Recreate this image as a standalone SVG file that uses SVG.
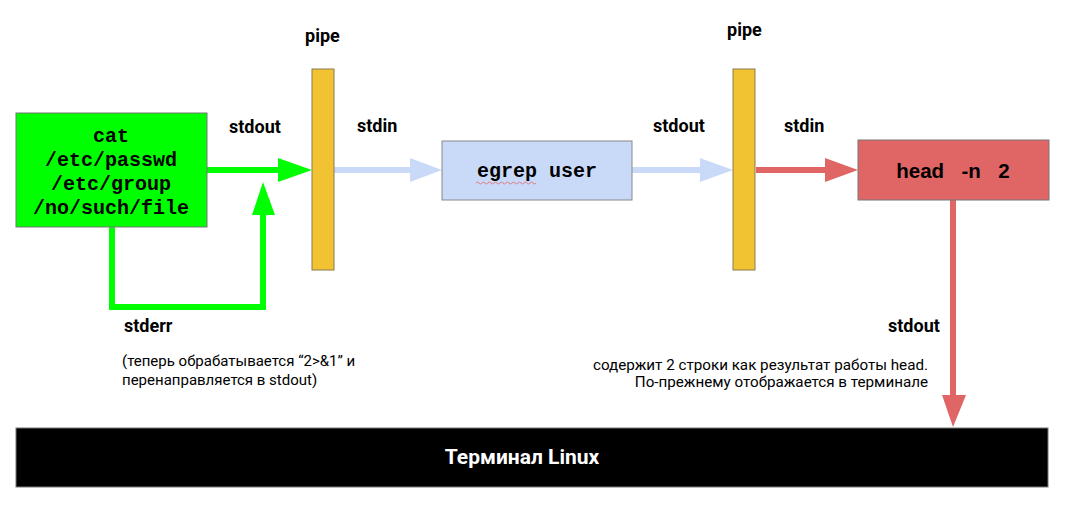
<svg xmlns="http://www.w3.org/2000/svg" width="1066" height="508" viewBox="0 0 1066 508">
<style>
.lbl{font-family:Roboto,"Liberation Sans",sans-serif;font-weight:bold;font-size:18px;fill:#000}
.note{font-family:Roboto,"Liberation Sans",sans-serif;font-size:15px;fill:#000}
.note2{font-family:Roboto,"Liberation Sans",sans-serif;font-size:15.2px;fill:#000;text-anchor:end}
.mono{font-family:"Liberation Mono","DejaVu Sans Mono",monospace;font-weight:bold;font-size:20px;fill:#000;text-anchor:middle}
.pipe{fill:#f1c232;stroke:#8a7a50;stroke-width:1}
.g{stroke:#00ff00;stroke-width:6;fill:none}
.gh{fill:#00ff00}
.b{stroke:#c9daf8;stroke-width:6;fill:none}
.bh{fill:#c9daf8}
.r{stroke:#e06666;stroke-width:6;fill:none}
.rh{fill:#e06666}
</style>
<rect width="1066" height="508" fill="#fff"/>
<g id="connectors">
<line class="g" x1="207" y1="170" x2="280" y2="170"/>
<polygon class="gh" points="278,158 312,170 278,182"/>
<polyline class="g" points="112,227 112,307 263,307 263,213"/>
<polygon class="gh" points="252,215 263,182 275,215"/>
<line class="b" x1="334" y1="170" x2="412" y2="170"/>
<polygon class="bh" points="410,158 442,170 410,182"/>
<line class="b" x1="632" y1="170" x2="702" y2="170"/>
<polygon class="bh" points="700,158 733,170 700,182"/>
<line class="r" x1="756" y1="170" x2="827" y2="170"/>
<polygon class="rh" points="825,158 858,170 825,182"/>
<line class="r" x1="953" y1="200" x2="953" y2="397"/>
<polygon class="rh" points="942,395 953,427 966,395"/>
</g>
<g id="cat">
<rect x="16" y="113" width="191" height="114" fill="#00ff00" stroke="#777" stroke-width="1"/>
<text class="mono" x="111" y="142">cat</text>
<text class="mono" x="111" y="166">/etc/passwd</text>
<text class="mono" x="111" y="190">/etc/group</text>
<text class="mono" x="111" y="214">/no/such/file</text>
</g>
<g id="pipe1">
<rect class="pipe" x="312" y="69" width="22" height="201"/>
<text class="lbl" x="305" y="42">pipe</text>
</g>
<g id="egrep">
<rect x="442" y="141" width="190" height="59" fill="#c9daf8" stroke="#888" stroke-width="1"/>
<text class="mono" x="537" y="177">egrep user</text>
<path d="M476,183 q1.5,-2 3,0 t3,0 t3,0 t3,0 t3,0 t3,0 t3,0 t3,0 t3,0 t3,0 t3,0 t3,0 t3,0 t3,0 t3,0 t3,0 t3,0 t3,0 t3,0 t3,0" fill="none" stroke="#e06666" stroke-width="0.8"/>
</g>
<g id="pipe2">
<rect class="pipe" x="733" y="69" width="22" height="201"/>
<text class="lbl" x="727" y="36">pipe</text>
</g>
<g id="head">
<rect x="858" y="140" width="191" height="60" fill="#e06666" stroke="#777" stroke-width="1"/>
<text x="953" y="178" text-anchor="middle" xml:space="preserve" word-spacing="3" font-family="'Liberation Sans',Arial,sans-serif" font-weight="bold" font-size="20.5">head  -n  2</text>
</g>
<g id="terminal">
<rect x="16" y="428" width="1032" height="59" fill="#000" stroke="#777" stroke-width="1"/>
<text x="522" y="464" text-anchor="middle" font-family="Roboto,'Liberation Sans',sans-serif" font-weight="bold" font-size="21" fill="#fff">Терминал Linux</text>
</g>
<g id="labels">
<text class="lbl" x="229" y="133">stdout</text>
<text class="lbl" x="357" y="132">stdin</text>
<text class="lbl" x="653" y="132">stdout</text>
<text class="lbl" x="784" y="132">stdin</text>
<text class="lbl" x="124" y="332">stderr</text>
<text class="lbl" x="888" y="332">stdout</text>
<text class="note" x="122" y="366">(теперь обрабатывается “2&gt;&amp;1” и</text>
<text class="note" x="122" y="385">перенаправляется в stdout)</text>
<text class="note2" x="928" y="370">содержит 2 строки как результат работы head.</text>
<text class="note2" x="928" y="387">По-прежнему отображается в терминале</text>
</g>
</svg>
